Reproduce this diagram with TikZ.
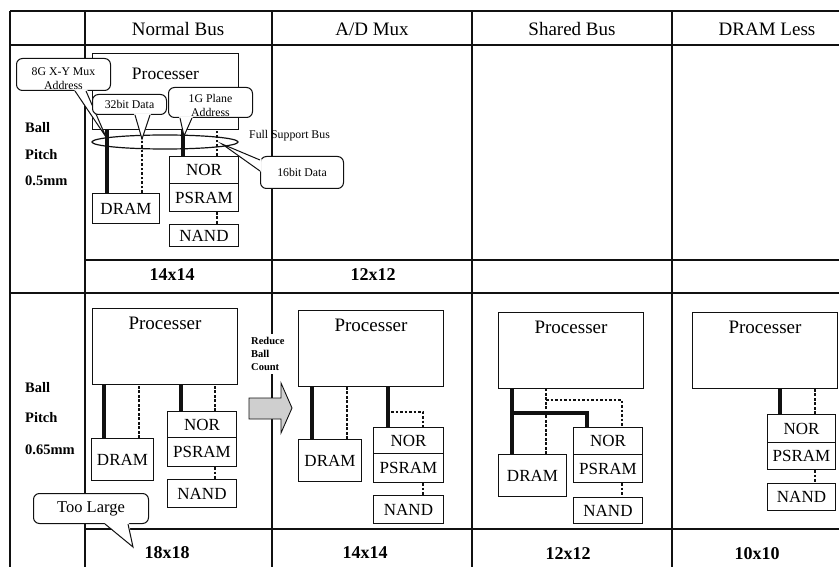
\documentclass[tikz,border=0pt]{standalone}
\usepackage{fontspec}
\setmainfont{Liberation Serif}
\usetikzlibrary{calc,shapes.geometric}
\definecolor{ink}{HTML}{111111}
\definecolor{stipple}{HTML}{CFCFCF}
\tikzset{
  rule/.style={ink, line width=1.1pt},
  boldrule/.style={ink, line width=2.4pt},
  head/.style={font=\fontsize{19}{21}\selectfont},
  sizelab/.style={font=\fontsize{18}{20}\selectfont\bfseries},
  pitchlab/.style={font=\fontsize{14.5}{16}\selectfont\bfseries, anchor=west, inner sep=0pt},
  proc/.style={draw=ink, line width=1pt, fill=white, anchor=north west, minimum width=145, minimum height=76, inner sep=0pt},
  mem/.style={draw=ink, line width=1pt, fill=white, anchor=north west, inner sep=0pt, font=\fontsize{17}{19}\selectfont},
  busline/.style={ink, line width=3.3pt},
  dotbus/.style={ink, line width=2.6pt, dash pattern=on 2.6pt off 1.9pt},
  callbox/.style={draw=ink, line width=1pt, fill=white, rounded corners=6pt, anchor=north west, inner sep=1pt, align=center, font=\fontsize{11.8}{13.5}\selectfont},
  pointer/.style={ink, line width=1pt, line join=miter},
}

\begin{document}
\begin{tikzpicture}[x=1pt, y=-1pt]
\useasboundingbox (0,0) rectangle (839,567);

% ---------------- table rules ----------------
\draw[rule] (10,11) -- (839,11);
\draw[rule] (10,45) -- (839,45);
\draw[rule] (85,260) -- (839,260);
\draw[boldrule] (10,293) -- (839,293);
\draw[rule] (85,529) -- (839,529);
\foreach \x in {10,85,272,472,672} \draw[rule] (\x,11) -- (\x,567);

% ---------------- headers and sizes ----------------
\node[head] (hnormal) at (178,29) {Normal Bus};
\node[head] (hmux) at (372,29) {A/D Mux};
\node[head] (hshared) at (572,29) {Shared Bus};
\node[head] (hless) at (767,29) {DRAM Less};

\node[pitchlab] (ball1) at (25,128) {Ball};
\node[pitchlab] (pitch1) at (25,155) {Pitch};
\node[pitchlab] (mm1) at (25,181) {0.5mm};
\node[pitchlab] (ball2) at (25,388) {Ball};
\node[pitchlab] (pitch2) at (25,418) {Pitch};
\node[pitchlab] (mm2) at (25,450) {0.65mm};

\node[sizelab] (s1a) at (172,275) {14x14};
\node[sizelab] (s1b) at (373,275) {12x12};
\node[sizelab] (s2a) at (167,553) {18x18};
\node[sizelab] (s2b) at (365,553) {14x14};
\node[sizelab] (s2c) at (568,554) {12x12};
\node[sizelab] (s2d) at (757,554) {10x10};

% ---------------- (a) normal bus, 0.5mm ----------------
\node[proc, minimum width=146, label={[head, font=\fontsize{17.5}{19}\selectfont, anchor=north, yshift=-12pt]north:Processer}] (proc1) at (92,53) {};
\node[mem, minimum width=67, minimum height=30] (dram1) at (92,193) {DRAM};
\node[mem, minimum width=69, minimum height=27] (nor1) at (169,156) {NOR};
\node[mem, minimum width=69, minimum height=28] (psram1) at (169,183) {PSRAM};
\node[mem, minimum width=69, minimum height=22] (nand1) at (169,224) {NAND};
\coordinate (d1a) at ($(dram1.north west)+(15,0)$);
\coordinate (d1b) at ($(dram1.north west)+(50,0)$);
\coordinate (n1a) at ($(nor1.north west)+(14,0)$);
\coordinate (n1b) at ($(nor1.north west)+(48,0)$);
\draw[busline] (d1a) -- (d1a |- proc1.south);
\draw[dotbus] (d1b) -- (d1b |- proc1.south);
\draw[busline] (n1a) -- (n1a |- proc1.south);
\draw[dotbus] (n1b) -- (n1b |- proc1.south);
\draw[dotbus] (n1b |- psram1.south) -- (n1b |- nand1.north);
\node[draw=ink, ellipse, line width=1.2pt, minimum width=146, minimum height=14, inner sep=0pt] (fsb) at (165,142) {};
\node[font=\fontsize{11.8}{13}\selectfont, anchor=west, inner sep=0pt] (fsblab) at (249,136) {Full Support Bus};

% callouts
\coordinate (t8g) at (106,137);
\node[callbox, minimum width=94, minimum height=32, text height=30pt, text depth=0pt] (c8g) at (16,58) {8G X-Y Mux\\Address};
\fill[white] ($(c8g.south west)+(58,-1.5)$) -- (t8g) -- ($(c8g.south west)+(71,-1.5)$) -- cycle;
\draw[pointer] ($(c8g.south west)+(59,0)$) -- (t8g) -- ($(c8g.south west)+(70,0)$);

\coordinate (t32) at (142,139);
\node[callbox, minimum width=74, minimum height=20] (c32) at (92,94) {32bit Data};
\fill[white] ($(c32.south west)+(42,-1.5)$) -- (t32) -- ($(c32.south west)+(59,-1.5)$) -- cycle;
\draw[pointer] ($(c32.south west)+(43,0)$) -- (t32) -- ($(c32.south west)+(58,0)$);

\coordinate (t1g) at (184,136);
\node[callbox, minimum width=84, minimum height=30, text height=28pt, text depth=0pt] (c1g) at (168,87) {1G Plane\\Address};
\fill[white] ($(c1g.south west)+(11,-1.5)$) -- (t1g) -- ($(c1g.south west)+(25,-1.5)$) -- cycle;
\draw[pointer] ($(c1g.south west)+(12,0)$) -- (t1g) -- ($(c1g.south west)+(24,0)$);

\coordinate (t16) at (222,144);
\node[callbox, minimum width=83, minimum height=32] (c16) at (260,156) {16bit Data};
\fill[white] ($(c16.north west)+(1.5,3)$) -- (t16) -- ($(c16.north west)+(1.5,16)$) -- cycle;
\draw[pointer] ($(c16.north west)+(0,4)$) -- (t16) -- ($(c16.north west)+(0,15)$);

% ---------------- (b) normal bus, 0.65mm ----------------
\node[proc, label={[head, anchor=north, yshift=-6pt]north:Processer}] (proc2) at (92,308) {};
\node[mem, minimum width=62, minimum height=42] (dram2) at (91,438) {DRAM};
\node[mem, minimum width=69, minimum height=26] (nor2) at (167,411) {NOR};
\node[mem, minimum width=69, minimum height=29] (psram2) at (167,437) {PSRAM};
\node[mem, minimum width=69, minimum height=28] (nand2) at (167,479) {NAND};
\coordinate (d2a) at ($(dram2.north west)+(13,0)$);
\coordinate (d2b) at ($(dram2.north west)+(48,0)$);
\coordinate (n2a) at ($(nor2.north west)+(14,0)$);
\coordinate (n2b) at ($(nor2.north west)+(48,0)$);
\draw[busline] (d2a) -- (d2a |- proc2.south);
\draw[dotbus] (d2b) -- (d2b |- proc2.south);
\draw[busline] (n2a) -- (n2a |- proc2.south);
\draw[dotbus] (n2b) -- (n2b |- proc2.south);
\draw[dotbus] (n2b |- psram2.south) -- (n2b |- nand2.north);

\coordinate (ttl) at (133,547);
\node[callbox, minimum width=115, minimum height=30, font=\fontsize{16.5}{18}\selectfont] (ctl) at (33,493) {Too Large};
\fill[white] ($(ctl.south west)+(71,-1.5)$) -- (ttl) -- ($(ctl.south west)+(96,-1.5)$) -- cycle;
\draw[pointer] ($(ctl.south west)+(72,0)$) -- (ttl) -- ($(ctl.south west)+(95,0)$);

% reduce arrow
\node[font=\fontsize{10.5}{13}\selectfont\bfseries, align=left, anchor=west, fill=white, inner sep=3pt] (reduce) at (248,354) {Reduce\\Ball\\Count};
\draw[ink, line width=0.9pt, fill=stipple] (249,398) -- (281,398) -- (281,383) -- (292,408) -- (281,433) -- (281,419) -- (249,419) -- cycle;

% ---------------- (c) A/D mux ----------------
\node[proc, label={[head, anchor=north, yshift=-6pt]north:Processer}] (proc3) at (298,310) {};
\node[mem, minimum width=63, minimum height=42] (dram3) at (298,439) {DRAM};
\node[mem, minimum width=70, minimum height=26] (nor3) at (373,427) {NOR};
\node[mem, minimum width=70, minimum height=29] (psram3) at (373,453) {PSRAM};
\node[mem, minimum width=70, minimum height=28] (nand3) at (373,495) {NAND};
\coordinate (d3a) at ($(dram3.north west)+(14,0)$);
\coordinate (d3b) at ($(dram3.north west)+(49,0)$);
\coordinate (n3a) at ($(nor3.north west)+(15,0)$);
\coordinate (n3b) at ($(nor3.north west)+(50,0)$);
\draw[busline] (d3a) -- (d3a |- proc3.south);
\draw[dotbus] (d3b) -- (d3b |- proc3.south);
\draw[dotbus] ($(n3a)+(3,-15)$) -| (n3b);
\draw[busline] (n3a) -- (n3a |- proc3.south);
\draw[dotbus] (n3b |- psram3.south) -- (n3b |- nand3.north);

% ---------------- (d) shared bus ----------------
\node[proc, label={[head, anchor=north, yshift=-6pt]north:Processer}] (proc4) at (498,312) {};
\node[mem, minimum width=68, minimum height=42] (dram4) at (498,454) {DRAM};
\node[mem, minimum width=69, minimum height=27] (nor4) at (573,427) {NOR};
\node[mem, minimum width=69, minimum height=28] (psram4) at (573,454) {PSRAM};
\node[mem, minimum width=69, minimum height=26] (nand4) at (573,497) {NAND};
\coordinate (d4a) at ($(dram4.north west)+(14,0)$);
\coordinate (d4b) at ($(dram4.north west)+(48,0)$);
\coordinate (n4a) at ($(nor4.north west)+(14,0)$);
\coordinate (n4b) at ($(nor4.north west)+(49,0)$);
\draw[dotbus] (d4b) -- (d4b |- proc4.south);
\draw[dotbus] ($(d4b)+(0,-54)$) -| (n4b);
\draw[busline] (d4a) -- (d4a |- proc4.south);
\draw[busline] ($(d4a)+(0,-41)$) -| (n4a);
\draw[dotbus] (n4b |- psram4.south) -- (n4b |- nand4.north);

% ---------------- (e) DRAM less ----------------
\node[proc, label={[head, anchor=north, yshift=-6pt]north:Processer}] (proc5) at (692,312) {};
\node[mem, minimum width=68, minimum height=28] (nor5) at (767,414) {NOR};
\node[mem, minimum width=68, minimum height=27] (psram5) at (767,442) {PSRAM};
\node[mem, minimum width=68, minimum height=27] (nand5) at (767,483) {NAND};
\coordinate (n5a) at ($(nor5.north west)+(13,0)$);
\coordinate (n5b) at ($(nor5.north west)+(48,0)$);
\draw[busline] (n5a) -- (n5a |- proc5.south);
\draw[dotbus] (n5b) -- (n5b |- proc5.south);
\draw[dotbus] (n5b |- psram5.south) -- (n5b |- nand5.north);

\end{tikzpicture}
\end{document}
